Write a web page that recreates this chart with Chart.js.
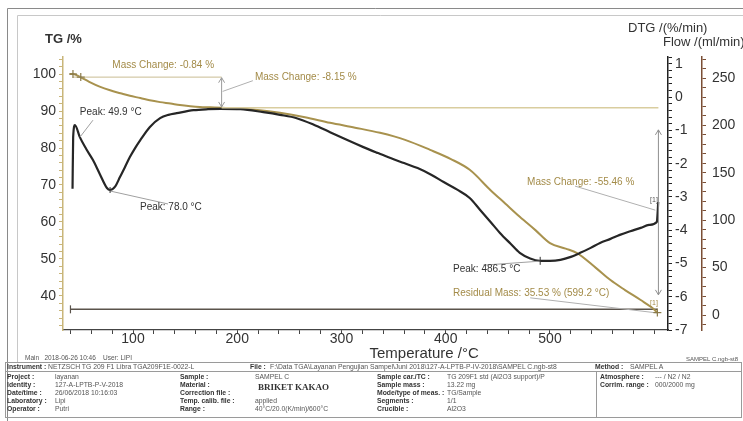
<!DOCTYPE html>
<html>
<head>
<meta charset="utf-8">
<script src="https://cdn.jsdelivr.net/npm/chart.js@4.4.1/dist/chart.umd.min.js"></script>
<style>
  html, body { margin: 0; padding: 0; background: #fff; }
  #wrap { position: relative; width: 743px; height: 421px; overflow: hidden; font-family: "Liberation Sans", Arial, sans-serif; }
  #tga { position: absolute; left: 0; top: 0; }
  .box { position: absolute; border: 1px solid #9a9a9a; box-sizing: border-box; }
  .t { position: absolute; font-size: 6.8px; color: #555; white-space: nowrap; line-height: 1; }
  .b { font-weight: bold; color: #333; }
</style>
</head>
<body>
<div id="wrap">
  <canvas id="tga" width="743" height="421"></canvas>
</div>
<script>
// TG curve (mass %)
const tgTemp = [39.5, 42.4, 49.9, 58, 68, 78, 88, 97, 107, 116, 126, 136, 145, 155, 164, 174, 185, 200, 215, 241, 265, 289, 313, 337, 361, 385, 405, 423, 443, 457, 471, 486, 500, 515, 526, 544, 558, 572, 587, 598, 603];
const tgMass = [100.0, 100.0, 99.1, 97.9, 96.6, 95.6, 94.8, 94.1, 93.5, 92.9, 92.4, 92.0, 91.6, 91.3, 91.1, 91.0, 90.9, 90.7, 90.4, 89.5, 88.3, 86.8, 85.5, 84.1, 82.2, 79.5, 77.0, 74.1, 68.6, 65.0, 61.4, 57.8, 54.3, 52.8, 51.6, 47.6, 44.3, 41.6, 38.9, 36.8, 35.5];

// DTG curve (%/min)
const dtgTemp = [42, 42.6, 44.3, 49, 55, 61.6, 68, 75, 78, 83, 87.5, 92, 97, 102, 107, 116, 126, 134, 142, 158, 172, 184, 203, 225, 241, 257, 273, 289, 305, 321, 335, 347, 360, 373, 386, 398, 411, 423, 433, 443, 452, 462, 471, 481, 490, 500, 510, 520, 529, 539, 548, 558, 567, 577, 587, 595, 602.5, 603.2, 603.8];
const dtgRate = [-2.75, -1.2, -0.84, -1.2, -1.55, -1.89, -2.3, -2.73, -2.79, -2.68, -2.4, -2.12, -1.8, -1.53, -1.29, -0.9, -0.63, -0.53, -0.48, -0.39, -0.36, -0.35, -0.36, -0.45, -0.53, -0.63, -0.82, -1.05, -1.28, -1.5, -1.68, -1.83, -1.98, -2.13, -2.33, -2.55, -2.78, -3.03, -3.39, -3.75, -4.08, -4.4, -4.68, -4.85, -4.92, -4.92, -4.89, -4.8, -4.68, -4.53, -4.38, -4.26, -4.14, -4.03, -3.93, -3.84, -3.75, -3.5, -3.15];

// purge flow (ml/min)
const flowTemp = [40, 603];
const flowRate = [6, 6];

// labelled ticks
const tempTickLabels = [100, 200, 300, 400, 500];
const tgTickLabels = [40, 50, 60, 70, 80, 90, 100];
const dtgTickLabels = [-7, -6, -5, -4, -3, -2, -1, 0, 1];
const flowTickLabels = [0, 50, 100, 150, 200, 250];

const FONT = '"Liberation Sans", Arial, sans-serif';
const GOLD = '#a8924e';
const GOLD_TXT = '#a38b48';

function pick(labels) {
  return (v) => {
    const r = Math.round(v);
    return Math.abs(v - r) < 1e-6 && labels.includes(r) ? String(r) : '';
  };
}

// minor tick positions between a and b
function steps(a, b, s) {
  const out = [];
  for (let i = 0; a + i * s <= b + 1e-9; i++) out.push({ value: Math.round((a + i * s) * 100) / 100 });
  return out;
}

const frame = {
  id: 'frame',
  beforeDraw(chart) {
    const ctx = chart.ctx;
    ctx.save();
    ctx.strokeStyle = '#8a8a8a';
    ctx.lineWidth = 1;
    ctx.beginPath();
    ctx.moveTo(7.5, 421); ctx.lineTo(7.5, 8.5); ctx.lineTo(743, 8.5);
    ctx.stroke();
    ctx.strokeStyle = '#c8c8c8';
    ctx.beginPath();
    ctx.moveTo(17.5, 362); ctx.lineTo(17.5, 15.5); ctx.lineTo(743, 15.5);
    ctx.stroke();
    ctx.restore();
  }
};

const notes = {
  id: 'notes',
  afterDatasetsDraw(chart) {
    const { ctx, chartArea: ca } = chart;
    const { x, tg, dtg, flow } = chart.scales;
    const X = v => x.getPixelForValue(v);
    const T = v => tg.getPixelForValue(v);
    const D = v => dtg.getPixelForValue(v);
    const F = v => flow.getPixelForValue(v);
    ctx.save();
    const line = (x1, y1, x2, y2, color, w) => {
      ctx.strokeStyle = color; ctx.lineWidth = w || 1;
      ctx.beginPath(); ctx.moveTo(x1, y1); ctx.lineTo(x2, y2); ctx.stroke();
    };
    const text = (s, px, py, color, size, align, weight) => {
      ctx.fillStyle = color;
      ctx.font = (weight || '') + ' ' + (size || 10) + 'px ' + FONT;
      ctx.textAlign = align || 'left';
      ctx.textBaseline = 'middle';
      ctx.fillText(s, px, py);
    };
    const head = (px, py, dir, color) => {
      ctx.strokeStyle = color; ctx.lineWidth = 1;
      ctx.beginPath();
      ctx.moveTo(px - 3, py - 5 * dir); ctx.lineTo(px, py); ctx.lineTo(px + 3, py - 5 * dir);
      ctx.stroke();
    };
    const plus = (px, py, color) => {
      line(px - 4, py, px + 4, py, color, 1.2);
      line(px, py - 4, px, py + 4, color, 1.2);
    };

    // step 1 / step 2 reference levels
    line(X(42.4), T(99.16), X(185), T(99.16), '#c9bd92', 1);
    line(X(185), T(90.9), X(604), T(90.9), '#d9cd9f', 1.5);
    line(X(185), T(99.0), X(185), T(91.1), '#9a9a9a', 1);
    head(X(185), T(99.0), -1, '#9a9a9a');
    head(X(185), T(91.1), 1, '#9a9a9a');
    plus(X(42.4), T(100), '#8a7a4a');
    plus(X(49.9), T(99.16), '#8a7a4a');
    text('Mass Change: -0.84 %', X(129), T(102.4), GOLD_TXT, 10, 'center');
    line(X(186), T(95.3), X(215), T(98.2), '#b0b0b0', 1);
    text('Mass Change: -8.15 %', X(217), T(99.2), GOLD_TXT, 10);

    // step 3
    line(X(604), T(84.9), X(604), T(40.3), '#8f8f8f', 1);
    head(X(604), T(84.9), -1, '#8f8f8f');
    head(X(604), T(40.3), 1, '#8f8f8f');
    line(X(524), T(69.7), X(601), T(63.2), '#b0b0b0', 1);
    text('Mass Change: -55.46 %', X(478), T(70.8), GOLD_TXT, 10);
    text('[1]', X(596), D(-3.1), '#555', 7);
    text('[1]', X(596), T(38.0), GOLD_TXT, 7);
    line(X(481), T(39.5), X(603), T(35.4), '#b0b0b0', 1);
    text('Residual Mass: 35.53 % (599.2 °C)', X(407), T(40.8), GOLD_TXT, 10);
    plus(X(603), T(35.5), '#8a7a4a');

    // DTG peaks
    line(X(49.1), D(-1.2), X(61.6), D(-0.69), '#a0a0a0', 1);
    text('Peak: 49.9 °C', X(49), D(-0.45), '#333', 10);
    line(X(78), D(-2.82), X(133.6), D(-3.21), '#a0a0a0', 1);
    line(X(78), D(-2.79) - 3, X(78), D(-2.79) + 3, '#333', 1);
    text('Peak: 78.0 °C', X(106.7), D(-3.3), '#333', 10);
    line(X(436), D(-5.05), X(490.6), D(-4.93), '#a0a0a0', 1);
    line(X(490.6), D(-4.92) - 4, X(490.6), D(-4.92) + 4, '#333', 1);
    text('Peak: 486.5 °C', X(407), D(-5.17), '#333', 10);

    // flow start mark
    line(X(40), F(6) - 4, X(40), F(6) + 4, '#5a534b', 1.2);

    // axis titles
    text('TG /%', tg.right - 18, ca.top - 18, '#333', 13, 'left', 'bold');
    text('DTG /(%/min)', dtg.left - 40, ca.top - 29, '#333', 13);
    text('Flow /(ml/min)', flow.left - 39, ca.top - 15, '#333', 13);
    text('Temperature /°C', (ca.left + ca.right) / 2 + 4, x.bottom - 6, '#333', 15);
    text('Main   2018-06-26 10:46    User: LIPI', 25, x.bottom - 2, '#555', 6.5);
    text('SAMPEL C.ngb-st8', 738, x.bottom - 1, '#555', 6, 'right');
    ctx.restore();
  }
};

function yAxis(pos, min, max, step, labels, color, width, weight, pad) {
  return {
    type: 'linear', position: pos, min: min, max: max, weight: weight,
    border: { display: true, color: color, width: 1.5 },
    grid: { drawOnChartArea: false, drawTicks: true, tickLength: 4, tickColor: color },
    ticks: { autoSkip: false, padding: pad, color: '#333', font: { size: 14, family: FONT }, callback: pick(labels) },
    afterBuildTicks: s => { s.ticks = steps(Math.ceil(min / step) * step, max, step); },
    afterFit: s => { s.width = width; }
  };
}

new Chart(document.getElementById('tga'), {
  type: 'line',
  data: {
    datasets: [
      {
        label: 'DTG', yAxisID: 'dtg',
        data: dtgTemp.map((t, i) => ({ x: t, y: dtgRate[i] })),
        borderColor: '#262626', borderWidth: 2.2, pointRadius: 0,
        cubicInterpolationMode: 'monotone'
      },
      {
        label: 'TG', yAxisID: 'tg',
        data: tgTemp.map((t, i) => ({ x: t, y: tgMass[i] })),
        borderColor: GOLD, borderWidth: 2, pointRadius: 0,
        cubicInterpolationMode: 'monotone'
      },
      {
        label: 'Flow', yAxisID: 'flow',
        data: flowTemp.map((t, i) => ({ x: t, y: flowRate[i] })),
        borderColor: '#5a534b', borderWidth: 1.5, pointRadius: 0
      }
    ]
  },
  options: {
    responsive: false,
    animation: false,
    layout: { padding: { left: 17, right: 0, top: 57, bottom: 61 } },
    plugins: { legend: { display: false }, tooltip: { enabled: false } },
    scales: {
      x: {
        type: 'linear', min: 32.85, max: 613.2,
        border: { display: true, color: '#444', width: 1.2 },
        grid: { drawOnChartArea: false, drawTicks: true, tickLength: 4, tickColor: '#444' },
        ticks: { autoSkip: false, maxRotation: 0, padding: -3, color: '#333', font: { size: 14, family: FONT }, callback: pick(tempTickLabels) },
        afterBuildTicks: s => { s.ticks = steps(40, 600, 20); },
        afterFit: s => { s.height = 30; }
      },
      tg: yAxis('left', 30.8, 104.6, 2, tgTickLabels, '#c9b67a', 46, 0, 3),
      dtg: yAxis('right', -7, 1.21, 0.2, dtgTickLabels, '#222', 34, 0, 3),
      flow: yAxis('right', -15.8, 272.2, 10, flowTickLabels, '#7a4e35', 41, 1, 6)
    }
  },
  plugins: [frame, notes]
});

// instrument / sample info block
const wrap = document.getElementById('wrap');
function put(x, y, s, cls, style) {
  const d = document.createElement('div');
  d.className = 't' + (cls ? ' ' + cls : '');
  d.style.left = x + 'px'; d.style.top = y + 'px';
  if (style) d.style.cssText += style;
  d.textContent = s;
  wrap.appendChild(d);
}
function boxLine(x, y, w, h, style) {
  const d = document.createElement('div');
  d.className = 'box';
  d.style.cssText = 'left:' + x + 'px;top:' + y + 'px;width:' + w + 'px;height:' + h + 'px;' + (style || '');
  wrap.appendChild(d);
}
boxLine(5, 362, 737, 56);
boxLine(5, 362, 737, 10, 'border-width:0 0 1px 0;');
boxLine(596, 372, 1, 46, 'border-width:0 0 0 1px;');

const headRow = [
  [7, 'Instrument :', 'b'], [48, 'NETZSCH TG 209 F1 Libra TGA209F1E-0022-L'],
  [250, 'File :', 'b'], [270, 'F:\\Data TGA\\Layanan Pengujian Sampel\\Juni 2018\\127-A-LPTB-P-IV-2018\\SAMPEL C.ngb-st8'],
  [595, 'Method :', 'b'], [630, 'SAMPEL A']
];
headRow.forEach(c => put(c[0], 364, c[1], c[2]));

const infoCols = [7, 55, 180, 255, 377, 447, 600, 655];
const infoRows = [
  ['Project :', 'layanan', 'Sample :', 'SAMPEL C', 'Sample car./TC :', 'TG 209F1 std (Al2O3 support)/P', 'Atmosphere :', '--- / N2 / N2'],
  ['Identity :', '127-A-LPTB-P-V-2018', 'Material :', '', 'Sample mass :', '13.22 mg', 'Corrim. range :', '000/2000 mg'],
  ['Date/time :', '26/06/2018 10:16:03', 'Correction file :', '', 'Mode/type of meas. :', 'TG/Sample', '', ''],
  ['Laboratory :', 'Lipi', 'Temp. calib. file :', 'applied', 'Segments :', '1/1', '', ''],
  ['Operator :', 'Putri', 'Range :', '40°C/20.0(K/min)/600°C', 'Crucible :', 'Al2O3', '', '']
];
const rowTops = [374, 382, 390, 398, 406];
infoRows.forEach((row, r) => {
  row.forEach((s, c) => { if (s) put(infoCols[c], rowTops[r], s, c % 2 === 0 ? 'b' : ''); });
});
put(258, 383, 'BRIKET KAKAO', '', 'font-family:"Liberation Serif",serif;font-size:9px;font-weight:bold;color:#333;');
</script>
</body>
</html>
